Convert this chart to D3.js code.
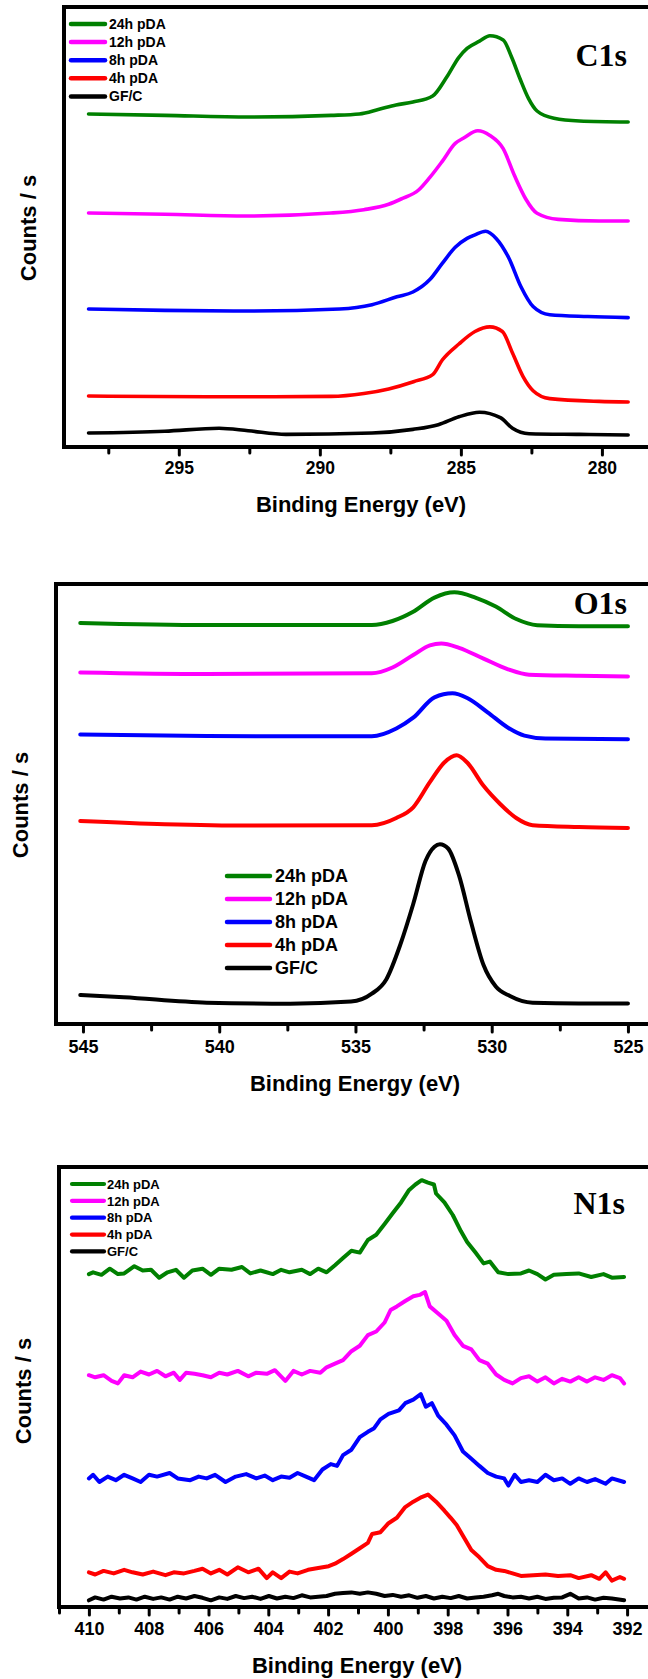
<!DOCTYPE html>
<html><head><meta charset="utf-8">
<script src="https://cdn.jsdelivr.net/npm/d3@7"></script>
<style>
body{margin:0;background:#fff;}
svg{display:block;}
text{font-family:"Liberation Sans",Arial,sans-serif;font-weight:bold;fill:#000;}
</style></head>
<body><svg id="c" width="648" height="1679"></svg>
<script>
// ---------- DATA (binding energy eV, intensity a.u.) ----------
const seriesNames = ["24h pDA","12h pDA","8h pDA","4h pDA","GF/C"];
const seriesColors = ["#008000","#ff00ff","#0000ff","#ff0000","#000000"];

// C1s
const c1s_24h = [[298.2,333],[295.5,331.6],[292.5,330],[289.6,331.6],[288.6,333],[287.9,337.7],[287.3,342],[286.7,345],[286.0,351],[285.5,370],[285.07,389.7],[284.78,398.6],[284.34,405.8],[283.97,411.2],[283.5,407],[283.2,389.7],[282.9,368],[282.6,348.4],[282.3,336],[281.7,328.7],[280.8,326],[279.07,325]];
const c1s_12h = [[298.2,234],[295.5,232.7],[292.6,231],[289.6,234],[288.44,237.3],[287.56,242.7],[287.12,248],[286.5,257],[286.1,269.6],[285.66,285.7],[285.2,303.6],[284.9,309],[284.4,316.2],[283.97,311.5],[283.5,298.3],[283.1,271.4],[282.7,248],[282.3,233.7],[281.55,227.6],[280.1,226],[279.07,226]];
const c1s_8h = [[298.2,138],[295.5,136.6],[292.5,136],[289.3,138],[288.15,142.3],[287.27,150.2],[286.7,155],[286.1,167.4],[285.66,183.6],[285.2,199.7],[284.78,208.6],[284.5,212.2],[284.12,215.8],[283.75,208.6],[283.3,189],[282.87,160.3],[282.44,140.5],[281.85,132.3],[280.5,130.5],[279.07,129.4]];
const c1s_4h = [[298.2,51],[294.0,50.2],[289.6,50.6],[288.44,53.5],[287.56,58.1],[286.68,65.3],[286.0,72.4],[285.66,87],[285.07,103],[284.5,115.5],[283.97,120.1],[283.53,115.5],[283.17,94],[282.8,70.7],[282.44,56.3],[281.85,48.4],[280.1,45.6],[279.07,45]];
const c1s_gfc = [[298.2,14],[295.5,15.8],[293.57,18.7],[292.54,16.2],[291.2,12.6],[288.15,14],[286.7,17.6],[285.8,22.3],[285.07,30.2],[284.34,34.8],[283.6,29.4],[283.17,18.7],[282.58,13.3],[280.8,12.6],[279.07,12]];

// O1s
const o1s_24h = [[545.1,401],[540.46,399],[534.4,399],[533.64,403],[532.9,412],[532.1,426.4],[531.37,431.7],[530.6,426.4],[529.85,417.4],[529.1,405],[528.33,398.8],[526.8,397.7],[525,397.7]];
const o1s_12h = [[545.1,351.5],[540.46,350],[534.4,350.7],[533.64,356.5],[532.88,369],[532.27,378.7],[531.85,380.5],[531.2,376.2],[530.3,365.4],[529.4,354.7],[528.63,349.3],[526.8,348.2],[525,347.5]];
const o1s_8h = [[545.1,289.5],[540.46,288],[534.4,287.7],[533.5,295.5],[532.88,306.3],[532.1,326.7],[531.44,330.7],[530.9,326],[530.15,311.7],[529.4,296.3],[528.8,288.4],[528.03,285.5],[525,284.8]];
const o1s_4h = [[545.1,203],[542.0,199.8],[538.9,198.4],[534.4,198.8],[533.5,206],[532.88,216.7],[532.27,241.8],[531.74,261.5],[531.29,268.7],[530.9,261.5],[530.3,238.2],[529.7,220.3],[529.1,206],[528.5,198.8],[526.8,197],[525,196]];
const o1s_gfc = [[545.1,29],[543.5,26.7],[540.46,21.3],[537.4,20.3],[535.16,22.4],[534.4,30.3],[533.87,44.6],[533.34,80.5],[532.88,120],[532.43,163],[532.1,177.3],[531.9,179.8],[531.6,175.5],[531.2,148.6],[530.76,102],[530.3,59],[529.85,37.5],[529.33,28],[528.5,21.3],[526.8,20.5],[525,20.5]];

// N1s
const n1s_24h = [[410.0,332.9],[409.86,334.7],[409.58,332.2],[409.3,338.3],[409.03,332.9],[408.82,333.6],[408.48,340.8],[408.2,336.5],[407.92,337.2],[407.65,329.3],[407.37,334.7],[407.09,337.2],[406.82,329.3],[406.54,336.5],[406.2,338.3],[405.92,332.2],[405.64,338.3],[405.23,337.2],[404.88,340.0],[404.6,333.6],[404.26,336.5],[403.85,332.9],[403.57,337.2],[403.29,334.7],[402.88,337.2],[402.6,332.9],[402.33,338.3],[402.05,334.7],[401.77,341.8],[401.5,349.0],[401.22,356.2],[400.94,354.4],[400.67,367.0],[400.39,372.3],[400.11,383.1],[399.84,393.8],[399.56,404.6],[399.29,417.1],[399.08,422.5],[398.87,426.8],[398.66,424.3],[398.46,422.5],[398.39,413.5],[398.11,404.6],[397.83,392.0],[397.56,375.9],[397.35,365.1],[397.07,354.4],[396.8,343.6],[396.59,345.4],[396.31,334.7],[395.97,332.9],[395.55,333.6],[395.28,336.5],[395.0,332.9],[394.73,327.5],[394.45,332.2],[394.03,332.9],[393.62,333.6],[393.2,330.0],[392.79,332.9],[392.51,329.3],[392.1,330.0]];
const n1s_12h = [[410.0,231.8],[409.79,229.7],[409.51,231.8],[409.24,226.1],[409.03,223.6],[408.82,231.8],[408.54,229.7],[408.27,235.4],[407.99,232.5],[407.72,236.1],[407.44,230.7],[407.16,234.3],[406.96,227.1],[406.75,234.3],[406.47,233.2],[406.2,231.8],[405.92,229.7],[405.64,234.3],[405.37,232.5],[405.02,236.1],[404.67,230.7],[404.4,234.3],[404.05,233.2],[403.78,236.8],[403.43,226.1],[403.16,236.1],[402.88,232.5],[402.6,236.1],[402.26,234.3],[402.05,239.7],[401.77,243.3],[401.5,246.9],[401.22,255.8],[400.94,261.2],[400.67,271.9],[400.39,275.5],[400.11,284.5],[399.91,297.0],[399.7,300.6],[399.42,306.0],[399.15,310.7],[398.94,312.1],[398.76,315.0],[398.6,300.6],[398.32,293.5],[398.04,286.3],[397.77,271.9],[397.49,261.2],[397.21,257.6],[396.94,246.9],[396.66,243.3],[396.38,232.5],[396.11,227.1],[395.83,223.6],[395.55,228.9],[395.28,230.7],[395.0,225.4],[394.73,229.7],[394.45,223.6],[394.17,228.2],[393.9,225.4],[393.62,229.7],[393.34,225.4],[393.07,229.7],[392.79,227.1],[392.51,231.8],[392.24,228.9],[392.1,223.6]];
const n1s_8h = [[410.0,128.6],[409.86,132.2],[409.65,125.0],[409.37,130.4],[409.1,126.8],[408.82,132.2],[408.54,128.6],[408.27,125.0],[407.99,132.2],[407.72,130.4],[407.3,134.0],[407.03,128.6],[406.61,126.8],[406.33,130.4],[406.06,128.6],[405.78,132.2],[405.43,125.0],[405.09,130.4],[404.74,132.9],[404.4,128.6],[404.12,131.4],[403.85,126.8],[403.57,130.4],[403.29,129.3],[403.02,134.0],[402.74,130.4],[402.47,126.8],[402.19,137.5],[401.91,142.9],[401.7,141.1],[401.5,151.9],[401.22,157.3],[400.94,169.8],[400.67,175.2],[400.46,178.8],[400.25,187.7],[399.98,193.1],[399.63,196.7],[399.42,203.8],[399.15,207.4],[398.9,212.8],[398.73,200.3],[398.53,203.8],[398.32,191.3],[398.04,182.3],[397.77,171.6],[397.49,155.5],[397.21,148.3],[396.94,141.1],[396.66,134.0],[396.38,130.4],[396.11,128.6],[395.97,121.4],[395.76,132.2],[395.55,125.0],[395.28,126.8],[395.0,125.0],[394.73,132.2],[394.45,126.8],[394.17,128.6],[393.9,123.2],[393.62,128.6],[393.34,125.0],[393.07,127.9],[392.72,123.2],[392.51,128.6],[392.1,125.0]];
const n1s_4h = [[410.0,34.7],[409.79,32.5],[409.51,36.1],[409.17,33.6],[408.82,37.2],[408.54,34.7],[408.2,32.5],[407.85,35.4],[407.44,31.8],[407.16,34.7],[406.82,33.6],[406.47,36.1],[406.2,38.3],[405.92,33.6],[405.64,37.2],[405.37,32.5],[405.02,39.7],[404.67,34.7],[404.33,38.3],[404.05,28.9],[403.85,34.7],[403.57,28.9],[403.29,35.4],[403.02,33.6],[402.67,37.2],[402.33,39.0],[401.98,40.8],[401.77,43.3],[401.5,47.9],[401.22,53.3],[400.94,58.7],[400.67,64.1],[400.53,73.0],[400.25,74.8],[399.98,83.8],[399.7,89.2],[399.42,99.9],[399.15,105.3],[398.87,109.9],[398.66,112.4],[398.39,105.3],[398.11,96.3],[397.9,89.2],[397.7,82.0],[397.49,71.2],[397.21,56.9],[396.94,49.7],[396.66,40.8],[396.38,37.2],[396.11,36.1],[395.83,33.6],[395.55,31.1],[395.14,31.8],[394.73,32.5],[394.31,31.1],[393.9,31.8],[393.62,28.9],[393.2,31.8],[392.93,28.2],[392.72,34.7],[392.51,26.4],[392.24,30.0],[392.1,28.2]];
const n1s_gfc = [[410.0,6.7],[409.79,9.6],[409.51,7.4],[409.24,10.3],[408.96,8.5],[408.68,9.6],[408.41,7.4],[408.13,10.3],[407.85,8.1],[407.58,9.6],[407.3,7.4],[407.03,10.3],[406.75,8.5],[406.47,11.0],[406.2,9.2],[405.92,6.7],[405.64,9.6],[405.37,8.1],[405.09,11.0],[404.81,8.9],[404.54,10.3],[404.26,8.1],[403.98,11.0],[403.71,8.5],[403.43,10.3],[403.16,8.9],[402.88,11.7],[402.6,9.6],[402.33,10.3],[402.05,11.0],[401.77,13.2],[401.5,13.9],[401.22,14.6],[400.94,13.2],[400.67,14.6],[400.39,13.2],[400.11,11.0],[399.84,12.1],[399.56,10.3],[399.29,11.7],[399.01,9.2],[398.73,11.0],[398.46,8.5],[398.18,10.3],[397.9,8.9],[397.63,11.0],[397.35,8.5],[397.07,9.6],[396.8,10.3],[396.52,11.7],[396.31,13.2],[396.11,11.0],[395.83,9.6],[395.55,10.3],[395.28,8.5],[395.0,10.3],[394.73,8.1],[394.45,9.2],[394.17,9.6],[393.9,13.2],[393.62,8.5],[393.34,9.6],[393.07,7.4],[392.79,9.2],[392.51,8.5],[392.1,6.7]];

// tick values / labels
const c1sMajor = [295,290,285,280], c1sMinor = [297.5,292.5,287.5,282.5];
const o1sMajor = [545,540,535,530,525], o1sMinor = [542.5,537.5,532.5,527.5];
const n1sMajor = [410,408,406,404,402,400,398,396,394,392], n1sMinor = [411,409,407,405,403,401,399,397,395,393];
const xTitle = "Binding Energy (eV)", yTitle = "Counts / s";

// ---------- DRAW ----------
const svg = d3.select("#c");

const panels = [
 {name:"C1s", series:[c1s_24h,c1s_12h,c1s_8h,c1s_4h,c1s_gfc], xdom:[299.07,278.26], left:64, right:651, top:7, bottom:447,
  major:c1sMajor, minor:c1sMinor, lw:3.6, curve:d3.curveMonotoneX, labelSize:17.5, labelOff:27,
  tag:{x:627,y:66}, titleY:512, titleX:361, yTitleX:36, yTitleY:228,
  leg:{x1:71,x2:105,tx:109,y0:24,dy:18.1,fs:14,lw:4.5}},
 {name:"O1s", series:[o1s_24h,o1s_12h,o1s_8h,o1s_4h,o1s_gfc], xdom:[545.99,524.0], left:56, right:655.2, top:584, bottom:1024,
  major:o1sMajor, minor:o1sMinor, lw:4, curve:d3.curveMonotoneX, labelSize:18, labelOff:29,
  tag:{x:627,y:614}, titleY:1091, titleX:355, yTitleX:28, yTitleY:805,
  leg:{x1:227,x2:270,tx:275,y0:876,dy:23,fs:18,lw:4.5}},
 {name:"N1s", series:[n1s_24h,n1s_12h,n1s_8h,n1s_4h,n1s_gfc], xdom:[411,391], left:59, right:657, top:1167, bottom:1607,
  major:n1sMajor, minor:n1sMinor, lw:4, curve:d3.curveLinear, labelSize:18, labelOff:28,
  tag:{x:625,y:1214}, titleY:1673, titleX:357, yTitleX:30.5, yTitleY:1391,
  leg:{x1:72,x2:104,tx:107,y0:1184,dy:16.85,fs:13,lw:4.2}}
];

panels.forEach(p => {
  const g = svg.append("g");
  const x = d3.scaleLinear().domain(p.xdom).range([p.left, p.right]);
  const y = d3.scaleLinear().domain([0, 440]).range([p.bottom, p.top]);

  // curves (draw GF/C first so colored on top order similar)
  const line = d3.line().x(d => x(d[0])).y(d => y(d[1])).curve(p.curve);
  p.series.slice().reverse().forEach((s, i) => {
    const idx = p.series.length - 1 - i;
    g.append("path").datum(s).attr("d", line).attr("fill","none")
      .attr("stroke", seriesColors[idx]).attr("stroke-width", p.lw)
      .attr("stroke-linejoin","round").attr("stroke-linecap","round");
  });

  // minor ticks
  const minorAxis = d3.axisBottom(x).tickValues(p.minor).tickSize(6).tickFormat("");
  const gm = g.append("g").attr("transform", `translate(0,${p.bottom})`).call(minorAxis);
  gm.select(".domain").remove();
  gm.selectAll(".tick line").attr("stroke","#000").attr("stroke-width",3).attr("stroke-linecap","round");

  // major ticks
  const majorAxis = d3.axisBottom(x).tickValues(p.major).tickSize(8).tickPadding(0).tickFormat(d3.format("d"));
  const ga = g.append("g").attr("transform", `translate(0,${p.bottom})`).call(majorAxis);
  ga.select(".domain").remove();
  ga.selectAll(".tick line").attr("stroke","#000").attr("stroke-width",3).attr("stroke-linecap","round");
  ga.selectAll(".tick text").attr("y", p.labelOff).attr("dy", null)
    .style("font-family","'Liberation Sans',Arial,sans-serif").style("font-weight","bold")
    .style("font-size", p.labelSize+"px").attr("fill","#000");

  // frame
  g.append("rect").attr("x", p.left).attr("y", p.top)
    .attr("width", p.right - p.left).attr("height", p.bottom - p.top)
    .attr("fill","none").attr("stroke","#000").attr("stroke-width",4);

  // legend
  seriesNames.forEach((n, i) => {
    const ly = p.leg.y0 + i * p.leg.dy;
    g.append("line").attr("x1", p.leg.x1).attr("x2", p.leg.x2).attr("y1", ly).attr("y2", ly)
      .attr("stroke", seriesColors[i]).attr("stroke-width", p.leg.lw).attr("stroke-linecap","round");
    g.append("text").attr("x", p.leg.tx).attr("y", ly + p.leg.fs*0.36)
      .style("font-size", p.leg.fs+"px").text(n);
  });

  // panel tag
  g.append("text").attr("x", p.tag.x).attr("y", p.tag.y).attr("text-anchor","end")
    .style("font-family","'Liberation Serif','Times New Roman',serif").style("font-weight","bold")
    .style("font-size","32px").text(p.name);

  // axis titles
  g.append("text").attr("x", p.titleX).attr("y", p.titleY).attr("text-anchor","middle")
    .style("font-size","22px").text(xTitle);
  g.append("text").attr("transform", `translate(${p.yTitleX},${p.yTitleY}) rotate(-90)`)
    .attr("text-anchor","middle").style("font-size","22px").text(yTitle);
});
</script></body></html>
